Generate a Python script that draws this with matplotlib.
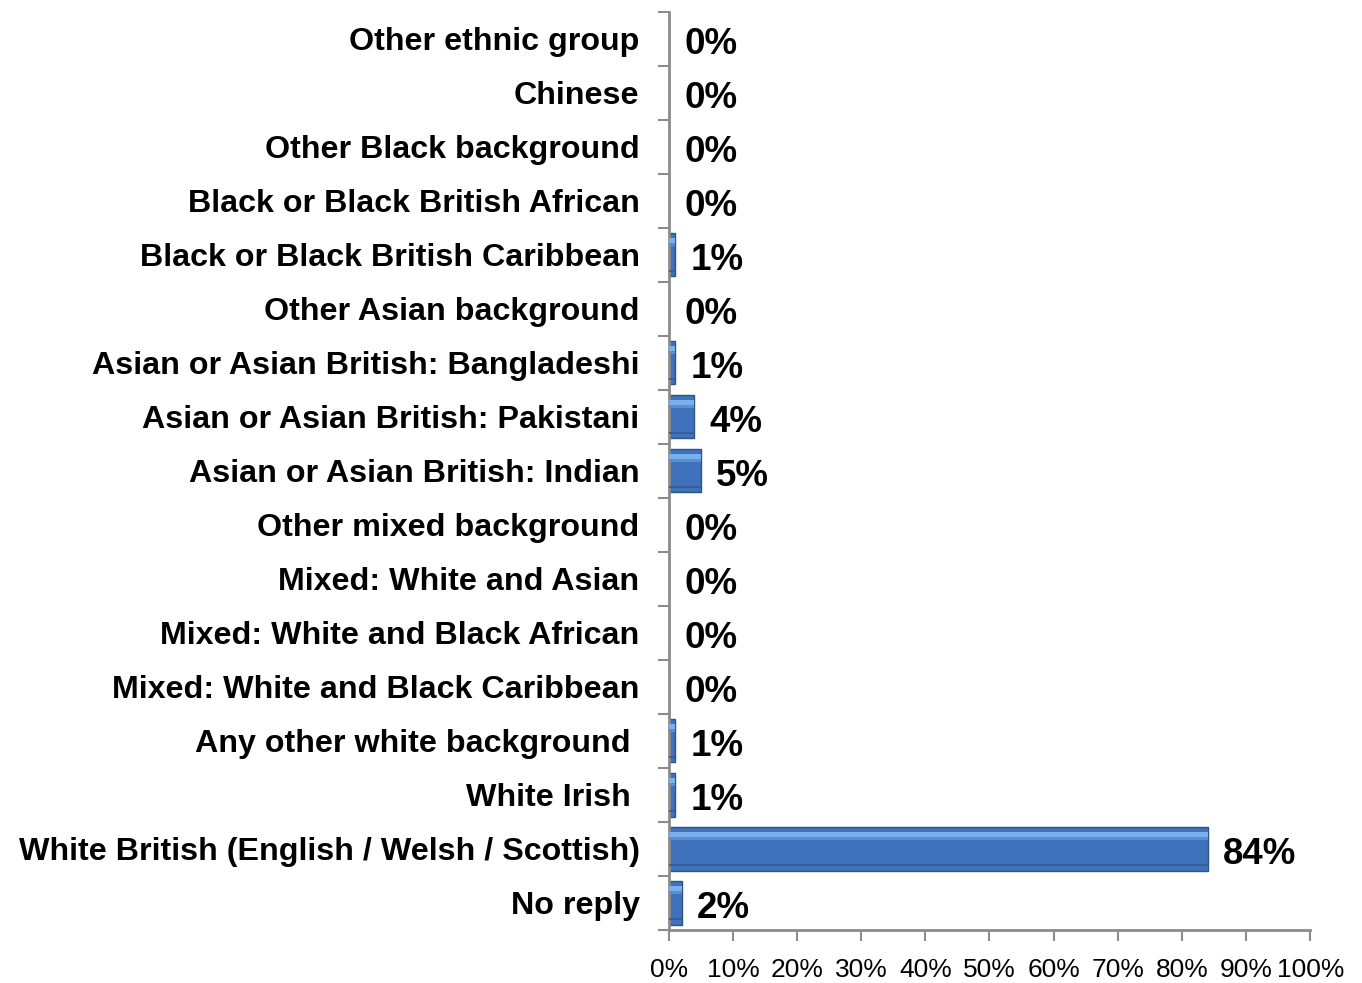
import matplotlib.pyplot as plt
import numpy as np

# Ethnic group breakdown, listed bottom to top
groups = [
    "No reply",
    "White British (English / Welsh / Scottish)",
    "White Irish ",
    "Any other white background ",
    "Mixed: White and Black Caribbean",
    "Mixed: White and Black African",
    "Mixed: White and Asian",
    "Other mixed background",
    "Asian or Asian British: Indian",
    "Asian or Asian British: Pakistani",
    "Asian or Asian British: Bangladeshi",
    "Other Asian background",
    "Black or Black British Caribbean",
    "Black or Black British African",
    "Other Black background",
    "Chinese",
    "Other ethnic group",
]
share = [2, 84, 1, 1, 0, 0, 0, 0, 5, 4, 1, 0, 1, 0, 0, 0, 0]
x_ticks = [0, 10, 20, 30, 40, 50, 60, 70, 80, 90, 100]

plt.rcParams['font.family'] = ['Liberation Sans', 'DejaVu Sans']

fig = plt.figure(figsize=(13.62, 9.83), dpi=100)
ax = fig.add_axes([0.491, 0.054, 0.471, 0.934])

y = np.arange(len(groups))
vals = np.array(share, dtype=float)
h = 0.8

# bevelled bars: body, top highlight, darker lower band
ax.barh(y, vals, height=h, color='#3F72BA', edgecolor='#2C5487', linewidth=1, zorder=2)
ax.barh(y + h * 0.33, vals, height=h * 0.12, color='#7AB0EC', linewidth=0, zorder=3)
ax.barh(y + h * 0.24, vals, height=h * 0.07, color='#5A8FD4', linewidth=0, zorder=3)
ax.barh(y - h * 0.37, vals, height=h * 0.06, color='#355F9C', linewidth=0, zorder=3)

for yi, v in zip(y, share):
    ax.annotate(f"{v}%", xy=(v, yi), xytext=(11, -4), textcoords='offset points',
                ha='left', va='center', fontsize=26.5, fontweight='bold', color='black')

ax.set_xlim(0, 100)
ax.set_ylim(-0.5, len(groups) - 0.5)

ax.set_yticks(y)
ax.set_yticklabels(groups, fontsize=23.2, fontweight='bold')
ax.set_yticks(np.arange(len(groups) + 1) - 0.5, minor=True)
ax.tick_params(axis='y', which='major', length=0, pad=21)
ax.tick_params(axis='y', which='minor', length=8, width=1.5, color='#8c8c8c', direction='out')

ax.set_xticks(x_ticks)
ax.set_xticklabels([f"{t}%" for t in x_ticks], fontsize=19)
ax.tick_params(axis='x', length=8, width=1.5, color='#8c8c8c', direction='out', pad=12)

for side in ['top', 'right']:
    ax.spines[side].set_visible(False)
for side in ['left', 'bottom']:
    ax.spines[side].set_color('#8c8c8c')
    ax.spines[side].set_linewidth(2)

fig.savefig('out.png', dpi=100)
